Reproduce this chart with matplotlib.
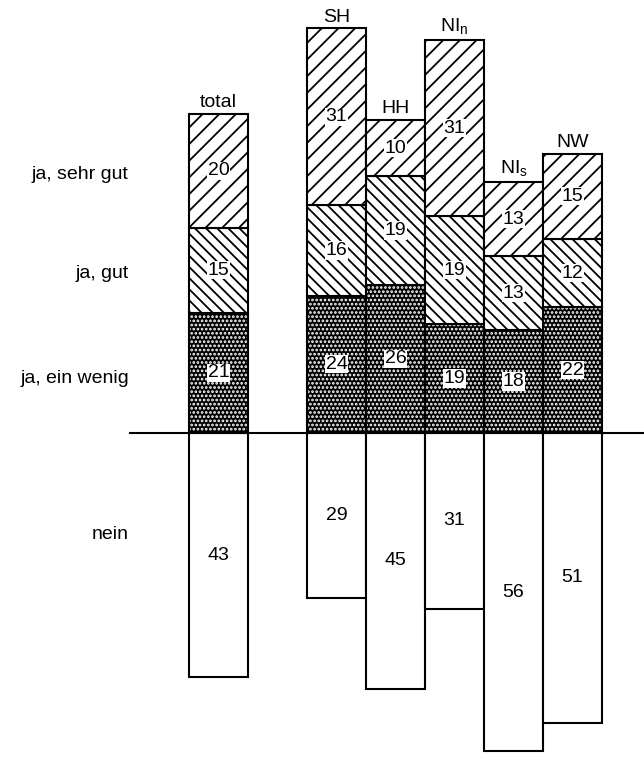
import matplotlib
matplotlib.use("Agg")
import matplotlib.pyplot as plt
import numpy as np

# survey answers per region (percent)
regions = ["total", "SH", "HH", r"NI$_\mathregular{n}$", r"NI$_\mathregular{s}$", "NW"]
ein_wenig = [21, 24, 26, 19, 18, 22]
gut = [15, 16, 19, 19, 13, 12]
sehr_gut = [20, 31, 10, 31, 13, 15]
nein = [43, 29, 45, 31, 56, 51]
row_labels = ["ja, sehr gut", "ja, gut", "ja, ein wenig", "nein"]

plt.rcParams["font.family"] = ["Liberation Sans", "DejaVu Sans"]
plt.rcParams["hatch.linewidth"] = 1.3

fig = plt.figure(figsize=(6.44, 7.6), dpi=100)
ax = fig.add_axes([0, 0, 1, 1])
ax.set_xlim(-3.7, 7.21)
ax.set_ylim(-57.5, 76)
ax.axis("off")

# total stands apart, the regions sit side by side
x = np.array([0, 2, 3, 4, 5, 6])
w = 1.0
ein = np.array(ein_wenig)
g = np.array(gut)
sg = np.array(sehr_gut)
nn = np.array(nein)

# ja, ein wenig: white dots on black
ax.bar(x, ein, w, color="black", edgecolor="white", hatch="....", linewidth=0)
ax.bar(x, ein, w, fill=False, edgecolor="black", linewidth=1.5)
# ja, gut: dense back slashes
ax.bar(x, g, w, bottom=ein, color="white", edgecolor="black", hatch="\\\\\\", linewidth=1.5)
# ja, sehr gut: wide forward slashes
ax.bar(x, sg, w, bottom=ein + g, color="white", edgecolor="black", hatch="//", linewidth=1.5)
# nein: plain white below the line
ax.bar(x, -nn, w, color="white", edgecolor="black", linewidth=1.5)

ax.plot([-1.5, 7.21], [0, 0], color="black", lw=1.5, zorder=5)

fs = 14
box = dict(facecolor="white", edgecolor="none", pad=0.4)
for i in range(len(x)):
    ax.text(x[i], ein[i] / 2, str(ein[i]), ha="center", va="center",
            fontsize=fs, bbox=box, zorder=6)
    ax.text(x[i], ein[i] + g[i] / 2, str(g[i]), ha="center", va="center",
            fontsize=fs, bbox=box, zorder=6)
    ax.text(x[i], ein[i] + g[i] + sg[i] / 2, str(sg[i]), ha="center", va="center",
            fontsize=fs, bbox=box, zorder=6)
    ax.text(x[i], -nn[i] / 2, str(nn[i]), ha="center", va="center",
            fontsize=fs, zorder=6)
    ax.text(x[i], ein[i] + g[i] + sg[i] + 0.5, regions[i], ha="center", va="bottom",
            fontsize=fs)

# row labels on the left
for lab, yy in zip(row_labels, [0.770, 0.640, 0.502, 0.297]):
    fig.text(0.2, yy, lab, ha="right", va="center", fontsize=fs)

fig.savefig("out.png", dpi=100)
